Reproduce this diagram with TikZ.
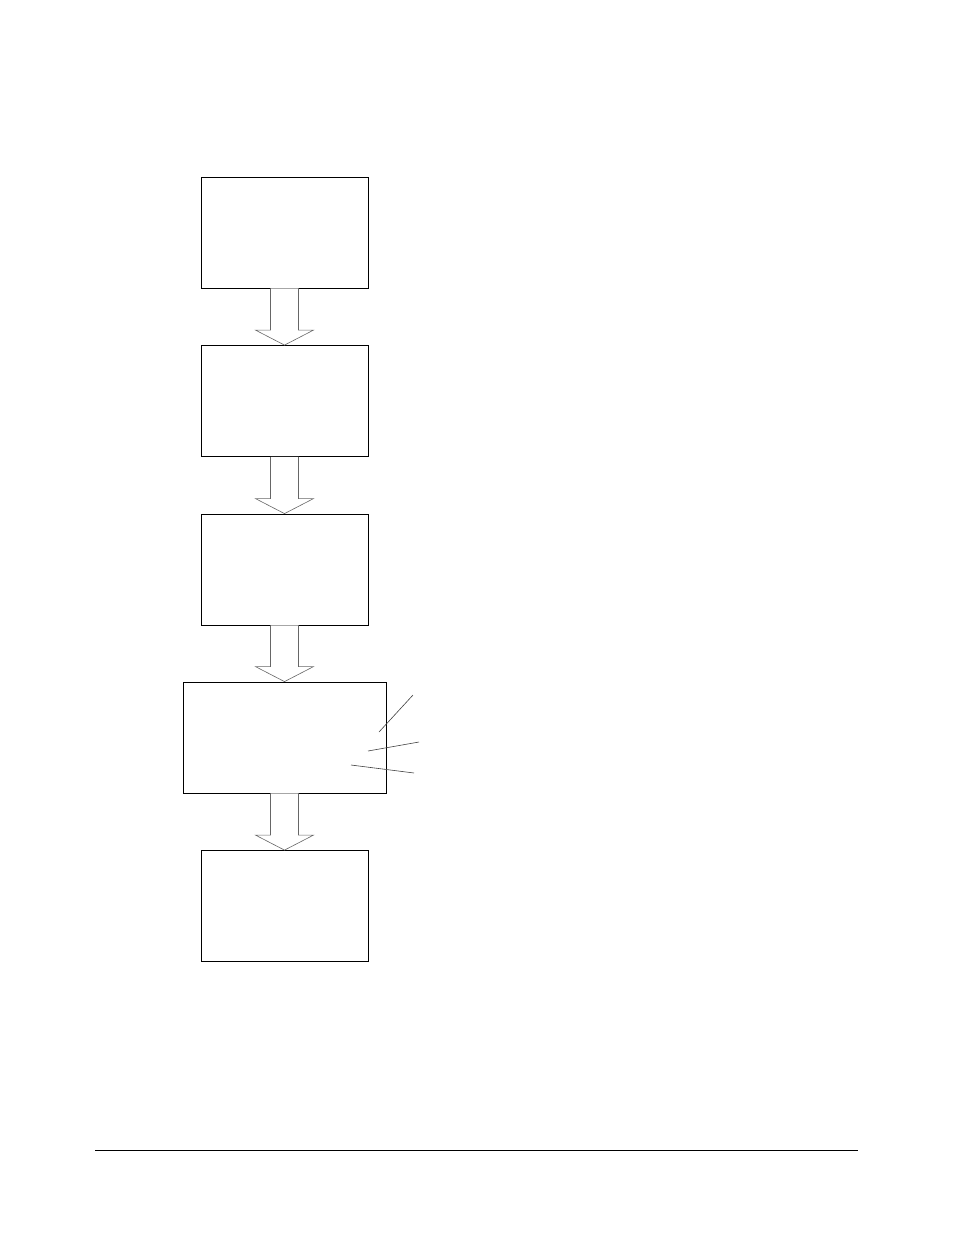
\documentclass[tikz,border=0pt]{standalone}
\usetikzlibrary{calc}
\begin{document}
\begin{tikzpicture}[x=1pt,y=-1pt,
  stepbox/.style={draw=black,line width=0.8pt,rectangle,inner sep=0pt,minimum width=167pt,minimum height=111pt},
  blockarrow/.style={draw=black!60,line width=0.6pt,fill=white,line join=miter},
  leader/.style={draw=black!75,line width=0.6pt}]
\useasboundingbox (0,0) rectangle (954,1235);
\node[stepbox] (b1) at (284.5,232.5) {};
\node[stepbox] (b2) at (284.5,401) {};
\node[stepbox] (b3) at (284.5,569.5) {};
\node[stepbox,minimum width=203pt] (b4) at (284.5,737.5) {};
\node[stepbox] (b5) at (284.5,906) {};
\foreach \a/\b in {b1/b2,b2/b3,b3/b4,b4/b5}{
  \draw[blockarrow] ($(\a.south)+(-14,0)$) -- ($(\b.north)+(-14,-15)$) -- ($(\b.north)+(-29,-15)$)
    -- (\b.north) -- ($(\b.north)+(29,-15)$) -- ($(\b.north)+(14,-15)$) -- ($(\a.south)+(14,0)$);
}
\coordinate (l1a) at (413,695); \coordinate (l1b) at (379,732);
\coordinate (l2a) at (419,742); \coordinate (l2b) at (368,751);
\coordinate (l3a) at (414,773); \coordinate (l3b) at (351,765);
\draw[leader] (l1a) -- (l1b);
\draw[leader] (l2a) -- (l2b);
\draw[leader] (l3a) -- (l3b);
\coordinate (r1) at (95,1150); \coordinate (r2) at (858,1150);
\draw[black,line width=0.7pt] (r1) -- (r2);
\end{tikzpicture}
\end{document}
